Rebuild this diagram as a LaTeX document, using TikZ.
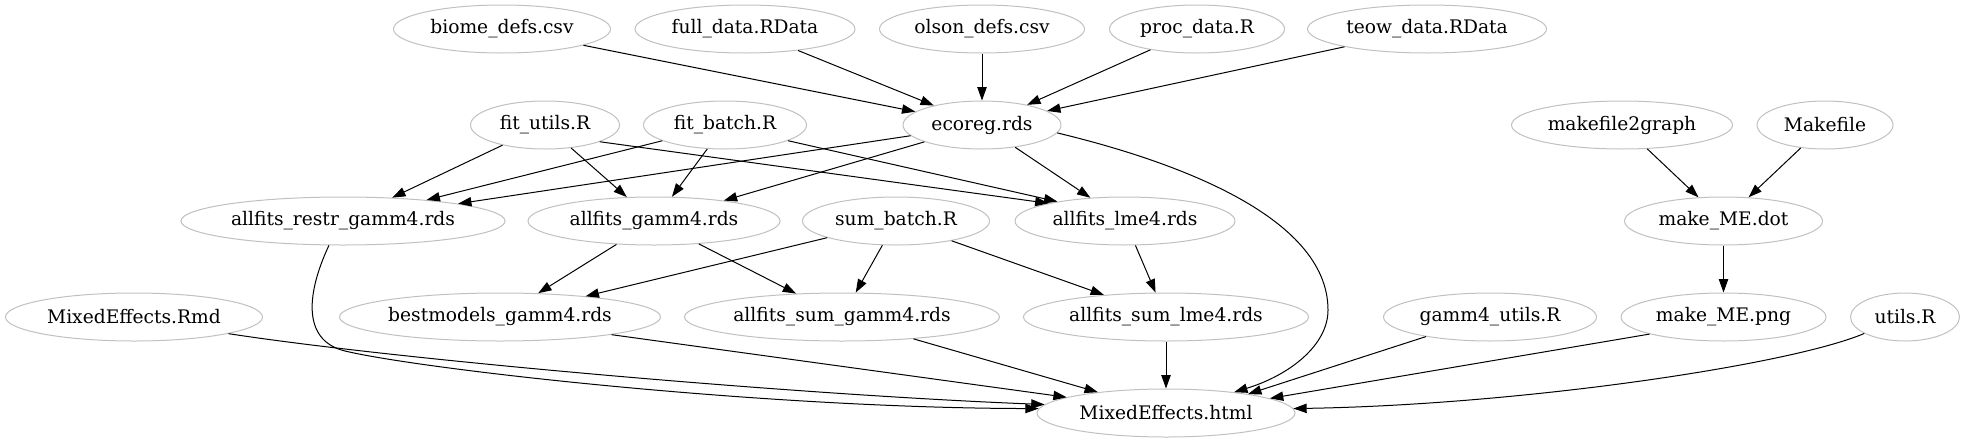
\documentclass[tikz,border=0pt]{standalone}
\usepackage{fontspec}
\setmainfont{DejaVu Serif}
\usetikzlibrary{shapes.geometric,arrows.meta}
\definecolor{gvgray}{RGB}{192,192,192}
\begin{document}
\begin{tikzpicture}[x=0.75pt,y=-0.75pt,
  file/.style={ellipse,draw=gvgray,line width=0.75pt,minimum height=36pt,inner sep=0pt,font=\fontsize{14pt}{17pt}\selectfont},
  w/.style={minimum width=#1*0.75pt},
  edge/.style={draw=black,line width=0.75pt,-{Triangle[length=10pt,width=7pt]}}]
\useasboundingbox (0,0) rectangle (1965,443);
% row 1
\node[file,w=217] (biome) at (502,29) {biome\_defs.csv};
\node[file,w=220] (full) at (745,29) {full\_data.RData};
\node[file,w=205] (olson) at (982,29) {olson\_defs.csv};
\node[file,w=175] (proc) at (1197,29) {proc\_data.R};
\node[file,w=239] (teow) at (1427,29) {teow\_data.RData};
% row 2
\node[file,w=149] (futils) at (545,125) {fit\_utils.R};
\node[file,w=163] (fbatch) at (725,125) {fit\_batch.R};
\node[file,w=158] (ecoreg) at (982,125) {ecoreg.rds};
\node[file,w=221] (mftwo) at (1622,125) {makefile2graph};
\node[file,w=136] (makefile) at (1825,125) {Makefile};
% row 3
\node[file,w=324] (restr) at (343,221) {allfits\_restr\_gamm4.rds};
\node[file,w=252] (gamm) at (654,221) {allfits\_gamm4.rds};
\node[file,w=187] (sumbatch) at (896,221) {sum\_batch.R};
\node[file,w=220] (lme) at (1125,221) {allfits\_lme4.rds};
\node[file,w=198] (dot) at (1723.5,221) {make\_ME.dot};
% row 4
\node[file,w=257] (rmd) at (134,317) {MixedEffects.Rmd};
\node[file,w=321] (best) at (500,317) {bestmodels\_gamm4.rds};
\node[file,w=315] (sumgamm) at (842,317) {allfits\_sum\_gamm4.rds};
\node[file,w=285] (sumlme) at (1166,317) {allfits\_sum\_lme4.rds};
\node[file,w=213] (gutils) at (1490,317) {gamm4\_utils.R};
\node[file,w=205] (png) at (1723.5,317) {make\_ME.png};
\node[file,w=109] (utils) at (1905,317) {utils.R};
% row 5
\node[file,w=258] (html) at (1166,413) {MixedEffects.html};
% edges into ecoreg
\draw[edge] (biome) -- (ecoreg);
\draw[edge] (full) -- (ecoreg);
\draw[edge] (olson) -- (ecoreg);
\draw[edge] (proc) -- (ecoreg);
\draw[edge] (teow) -- (ecoreg);
% row 2 -> row 3
\draw[edge] (futils) -- (restr);
\draw[edge] (futils) -- (gamm);
\draw[edge] (futils.-17) -- (lme.167);
\draw[edge] (fbatch) -- (restr);
\draw[edge] (fbatch) -- (gamm);
\draw[edge] (fbatch.-14) -- (lme.164);
\draw[edge] (ecoreg) -- (restr);
\draw[edge] (ecoreg) -- (gamm);
\draw[edge] (ecoreg) -- (lme);
\draw[edge] (mftwo) -- (dot);
\draw[edge] (makefile) -- (dot);
% row 3 -> row 4
\draw[edge] (gamm) -- (best);
\draw[edge] (gamm) -- (sumgamm);
\draw[edge] (sumbatch) -- (best);
\draw[edge] (sumbatch) -- (sumgamm);
\draw[edge] (sumbatch) -- (sumlme);
\draw[edge] (lme) -- (sumlme);
\draw[edge] (dot) -- (png);
% into html
\draw[edge] (ecoreg.-6) .. controls (1170,160) and (1328,215) .. (1328,310) .. controls (1328,345) and (1290,375) .. (html.17);
\draw[edge] (restr.240) .. controls (308,290) and (300,340) .. (345,351) .. controls (420,369) and (760,408) .. (html.178);
\draw[edge] (rmd.-10) .. controls (400,360) and (800,395) .. (html.176);
\draw[edge] (best.-9) -- (html.171);
\draw[edge] (sumgamm.-17) -- (html.163);
\draw[edge] (sumlme) -- (html);
\draw[edge] (gutils.197) -- (html.13);
\draw[edge] (png.193) -- (html.8);
\draw[edge] (utils.202) .. controls (1790,365) and (1520,405) .. (html.2);
\end{tikzpicture}
\end{document}
